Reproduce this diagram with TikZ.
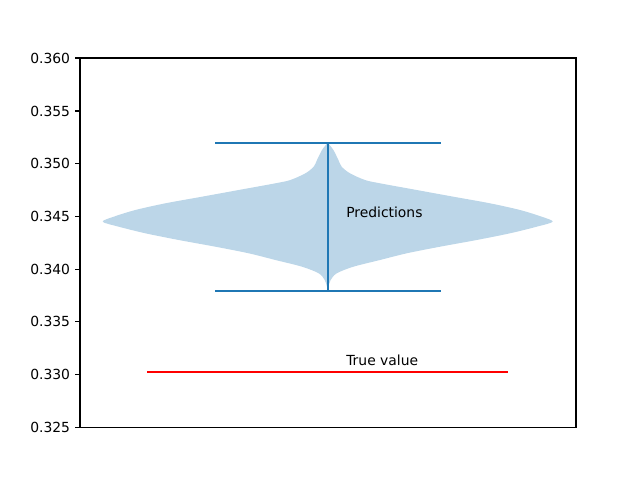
\documentclass[tikz,border=0pt]{standalone}
\usepackage{fontspec}
\setmainfont{DejaVu Sans}
\begin{document}
\begin{tikzpicture}[x=0.72pt,y=-0.72pt,
  ticklabel/.style={anchor=east,inner sep=0pt,font=\fontsize{10}{12}\selectfont},
  annot/.style={anchor=base west,inner sep=0pt,font=\fontsize{10}{12}\selectfont},
  spine/.style={line width=0.8pt,black},
  vline/.style={line width=1.5pt,color=vblue},
  ]
\definecolor{vblue}{HTML}{1F77B4}
\definecolor{vfill}{HTML}{BCD6E8}
\useasboundingbox (0,0) rectangle (640,480);
% violin body
\fill[vfill] (327.7,142.7)
  plot[smooth,tension=0.5] coordinates {
   (327.7,142.7) (322.0,150) (317.0,160) (313.7,166.7) (305.4,173.3) (290.4,180)
   (275.4,183.3) (238.7,190) (202.0,196.7) (165.4,203.3) (135.4,210) (113.7,216.7) (102.7,221.7)
   (118.7,226.7) (145.4,233.3) (178.7,240) (215.4,246.7) (248.7,253.3) (275.4,260)
   (302.0,266.7) (318.7,273.3) (324.7,280) (327.0,286.7) (327.7,291.7)}
  -- plot[smooth,tension=0.5] coordinates {
   (327.7,291.7) (328.4,286.7) (330.7,280) (336.7,273.3) (353.4,266.7) (380.0,260)
   (406.7,253.3) (440.0,246.7) (476.7,240) (510.0,233.3) (536.7,226.7) (552.7,221.7)
   (541.7,216.7) (520.0,210) (490.0,203.3) (453.4,196.7) (416.7,190) (380.0,183.3)
   (365.0,180) (350.0,173.3) (341.7,166.7) (338.4,160) (333.4,150) (327.7,142.7)}
  -- cycle;
% violin lines
\coordinate (ctop) at (327.7,142.7);
\coordinate (cbot) at (327.7,291.7);
\coordinate (tl) at (215,142.7);
\coordinate (tr) at (441,142.7);
\coordinate (bl) at (215,291.3);
\coordinate (br) at (441,291.3);
\draw[vline] (tl) -- (tr);
\draw[vline] (bl) -- (br);
\draw[vline] (ctop) -- (cbot);
% true value
\coordinate (rl) at (147.3,371.7);
\coordinate (rr) at (508.3,371.7);
\draw[line width=1.5pt,red] (rl) -- (rr);
% annotations
\node[annot] (pred) at (346,217.3) {Predictions};
\node[annot] (truev) at (346,365) {True value};
% axes frame
\draw[spine] (80,58) rectangle (576,427.3);
% y ticks
\foreach \v/\lab [count=\i from 0] in {427.3/0.325,374.6/0.330,321.9/0.335,269.1/0.340,216.4/0.345,163.7/0.350,111.0/0.355,58.0/0.360}{
  \draw[line width=0.8pt] (80,\v) -- (75.1,\v);
  \node[ticklabel] (tick\i) at (70.3,\v) {\lab};
}
\end{tikzpicture}
\end{document}
